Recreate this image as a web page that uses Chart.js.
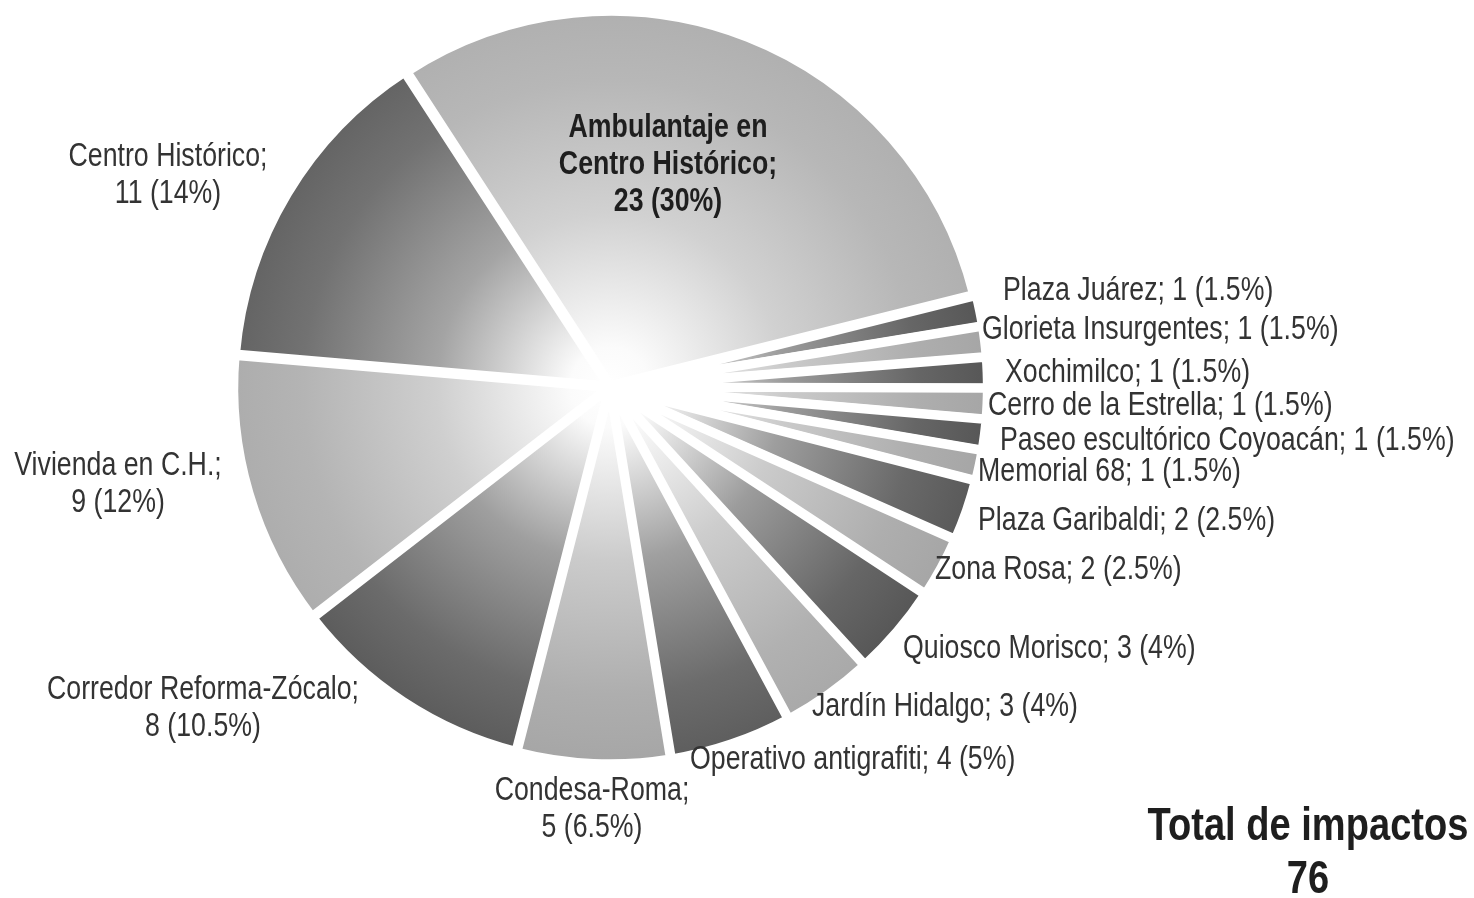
<!DOCTYPE html>
<html>
<head>
<meta charset="utf-8">
<script src="https://cdn.jsdelivr.net/npm/chart.js@4.4.1/dist/chart.umd.min.js"></script>
<style>
html, body { margin: 0; padding: 0; background: #fff; }
#wrap { width: 1474px; height: 898px; position: relative; }
</style>
</head>
<body>
<div id="wrap"><canvas id="impactos-pie-chart"></canvas></div>
<script>
// Impactos por zona
const zonas = [
	'Ambulantaje en Centro Histórico',
	'Plaza Juárez',
	'Glorieta Insurgentes',
	'Xochimilco',
	'Cerro de la Estrella',
	'Paseo escultórico Coyoacán',
	'Memorial 68',
	'Plaza Garibaldi',
	'Zona Rosa',
	'Quiosco Morisco',
	'Jardín Hidalgo',
	'Operativo antigrafiti',
	'Condesa-Roma',
	'Corredor Reforma-Zócalo',
	'Vivienda en C.H.',
	'Centro Histórico',
];
const impactos = [23, 1, 1, 1, 1, 1, 1, 2, 2, 3, 3, 4, 5, 8, 9, 11];
const porcentajes = ['30%', '1.5%', '1.5%', '1.5%', '1.5%', '1.5%', '1.5%', '2.5%', '2.5%', '4%', '4%', '5%', '6.5%', '10.5%', '12%', '14%'];
const total_impactos = 76;

// rim shade of every slice (light / dark alternating)
const shades = [175, 85, 165, 85, 165, 85, 165, 88, 165, 85, 168, 92, 165, 90, 172, 98];

// label placement: x, y of first line, text alignment
const label_pos = [
	{ x: 668, y: 128, align: 'center' },
	{ x: 1003, y: 291, align: 'left' },
	{ x: 982, y: 330, align: 'left' },
	{ x: 1005, y: 373, align: 'left' },
	{ x: 988, y: 406, align: 'left' },
	{ x: 1000, y: 441, align: 'left' },
	{ x: 978, y: 472, align: 'left' },
	{ x: 978, y: 521, align: 'left' },
	{ x: 935, y: 570, align: 'left' },
	{ x: 903, y: 649, align: 'left' },
	{ x: 812, y: 707, align: 'left' },
	{ x: 690, y: 760, align: 'left' },
	{ x: 592, y: 791, align: 'center' },
	{ x: 203, y: 690, align: 'center' },
	{ x: 118, y: 466, align: 'center' },
	{ x: 168, y: 157, align: 'center' },
];

const label_font = "33px 'Liberation Sans', Arial, sans-serif";
const label_font_bold = "bold 33px 'Liberation Sans', Arial, sans-serif";
const total_font = "bold 47px 'Liberation Sans', Arial, sans-serif";
const squeeze = 0.81;

function grey(v) {
	v = Math.round(Math.min(255, v));
	return 'rgb(' + v + ',' + v + ',' + v + ')';
}

function sliceGradient(context) {
	let chart = context.chart;
	let area = chart.chartArea;
	let rim = shades[context.dataIndex];
	if (!area) {
		return grey(rim);
	}
	let cx = (area.left + area.right) / 2;
	let cy = (area.top + area.bottom) / 2;
	let r = Math.min(area.width, area.height) / 2;
	let g = chart.ctx.createRadialGradient(cx, cy, 0, cx, cy, r);
	g.addColorStop(0, '#ffffff');
	g.addColorStop(0.1, '#fbfbfb');
	g.addColorStop(0.45, grey(rim + (255 - rim) * 0.42));
	g.addColorStop(0.8, grey(rim + (255 - rim) * 0.1));
	g.addColorStop(1, grey(rim));
	return g;
}

function labelLines(i) {
	if (i === 0) {
		return ['Ambulantaje en', 'Centro Histórico;', impactos[i] + ' (' + porcentajes[i] + ')'];
	}
	if (label_pos[i].align === 'left') {
		return [zonas[i] + '; ' + impactos[i] + ' (' + porcentajes[i] + ')'];
	}
	return [zonas[i] + ';', impactos[i] + ' (' + porcentajes[i] + ')'];
}

function drawText(ctx, text, x, y, align, font, sx) {
	ctx.save();
	ctx.font = font;
	ctx.translate(x, y);
	ctx.scale(sx, 1);
	ctx.textAlign = align;
	ctx.textBaseline = 'middle';
	ctx.fillText(text, 0, 0);
	ctx.restore();
}

const pie_labels_plugin = {
	id: 'pieLabels',
	afterDraw: function(chart) {
		let ctx = chart.ctx;
		for (let i = 0; i < zonas.length; i++) {
			let pos = label_pos[i];
			let lines = labelLines(i);
			ctx.fillStyle = i === 0 ? '#1e1e1e' : '#333333';
			for (let j = 0; j < lines.length; j++) {
				drawText(ctx, lines[j], pos.x, pos.y + j * 37, pos.align,
					i === 0 ? label_font_bold : label_font, squeeze);
			}
		}
		ctx.fillStyle = '#1e1e1e';
		drawText(ctx, 'Total de impactos', 1308, 827, 'center', total_font, 0.81);
		drawText(ctx, String(total_impactos), 1308, 880, 'center', total_font, 0.81);
	},
};

const impactos_pie_chart_data = {
	labels: zonas,
	datasets: [{
		data: impactos,
		backgroundColor: sliceGradient,
		borderColor: '#ffffff',
		borderWidth: 9,
		offset: 7,
	}],
};

const impactos_pie_chart_options = {
	responsive: true,
	maintainAspectRatio: false,
	animation: false,
	rotation: -33,
	layout: {
		padding: {
			left: 228,
			right: 482,
			top: 5,
			bottom: 129,
		},
	},
	plugins: {
		legend: { display: false },
		tooltip: { enabled: false },
	},
};

var impactos_pie_chart_ctx = document.getElementById('impactos-pie-chart').getContext('2d');
var impactos_pie_chart = new Chart(impactos_pie_chart_ctx, {
	type: 'pie',
	data: impactos_pie_chart_data,
	options: impactos_pie_chart_options,
	plugins: [pie_labels_plugin],
});
</script>
</body>
</html>
